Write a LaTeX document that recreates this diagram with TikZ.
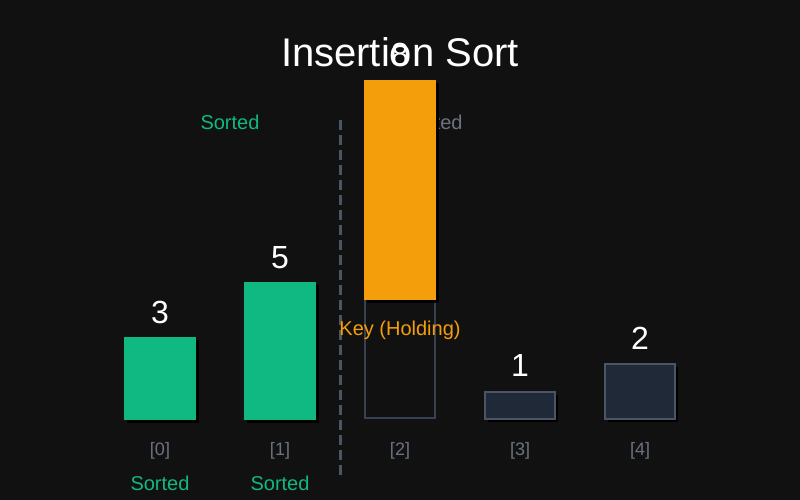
\documentclass[tikz,border=0pt]{standalone}
\usepackage{fontspec}
\setmainfont{Liberation Sans}
\usetikzlibrary{shadows}

\definecolor{bgdark}{HTML}{111111}
\definecolor{sortgreen}{HTML}{10B981}
\definecolor{keyorange}{HTML}{F59E0B}
\definecolor{slate}{HTML}{1F2937}
\definecolor{slateedge}{HTML}{4B5563}
\definecolor{slotedge}{HTML}{374151}
\definecolor{idxgray}{HTML}{6B7280}

\tikzset{
  txt/.style={inner sep=0pt, anchor=base},
  titletext/.style={txt, text=white, font=\fontsize{40}{48}\selectfont},
  valtext/.style={txt, text=white, font=\fontsize{32}{38}\selectfont},
  regiontext/.style={txt, font=\fontsize{20}{24}\selectfont},
  idxtext/.style={txt, text=idxgray, font=\fontsize{18}{22}\selectfont},
  bar/.style={rectangle, inner sep=0pt, minimum width=72pt, anchor=south,
    drop shadow={shadow xshift=3pt, shadow yshift=-3pt, fill=black, opacity=1}},
  sortedbar/.style={fill=sortgreen},
  openbar/.style={fill=slate, draw=slateedge, line width=2pt, minimum width=70pt},
  keybar/.style={fill=keyorange},
  slot/.style={rectangle, inner sep=0pt, minimum width=70pt, anchor=south, draw=slotedge, line width=2pt},
  divider/.style={draw=slateedge, line width=3pt, dash pattern=on 10pt off 5pt}
}

\begin{document}
\begin{tikzpicture}[x=1pt, y=-1pt]
  \fill[bgdark] (0,0) rectangle (800,500);
  \useasboundingbox (0,0) rectangle (800,500);

  \node[titletext] (title) at (400,67) {Insertion Sort};
  \node[regiontext, text=idxgray] (unsorted) at (422,129) {Unsorted};
  \node[regiontext, text=sortgreen] (sorted) at (230,129) {Sorted};

  \coordinate (divtop) at (340,120);
  \coordinate (divbot) at (340,475);
  \draw[divider] (divtop) -- (divbot);

  \foreach \i/\x/\h/\v/\kind in {0/160/82.5/3/sortedbar, 1/280/137.5/5/sortedbar,
                                  3/520/27.5/1/openbar, 4/640/55/2/openbar} {
    \node[bar, \kind, minimum height=\h pt] (b\i) at (\x,420) {};
    \node[valtext, yshift=14pt] (v\i) at (b\i.north) {\v};
  }

  % slot left empty by the lifted key
  \node[slot, minimum height=119pt] (b2) at (400,419) {};
  \node[bar, keybar, minimum height=220pt] (key) at (400,300) {};
  \node[valtext, yshift=14pt] (v2) at (key.north) {8};
  \node[regiontext, text=keyorange] (keylabel) at (400,335) {Key (Holding)};

  \foreach \i/\x in {0/160,1/280,2/400,3/520,4/640}
    \node[idxtext] (i\i) at (\x,455) {[\i]};
  \foreach \i in {0,1}
    \node[regiontext, text=sortgreen, yshift=-35pt] (s\i) at (i\i.base) {Sorted};
\end{tikzpicture}
\end{document}
